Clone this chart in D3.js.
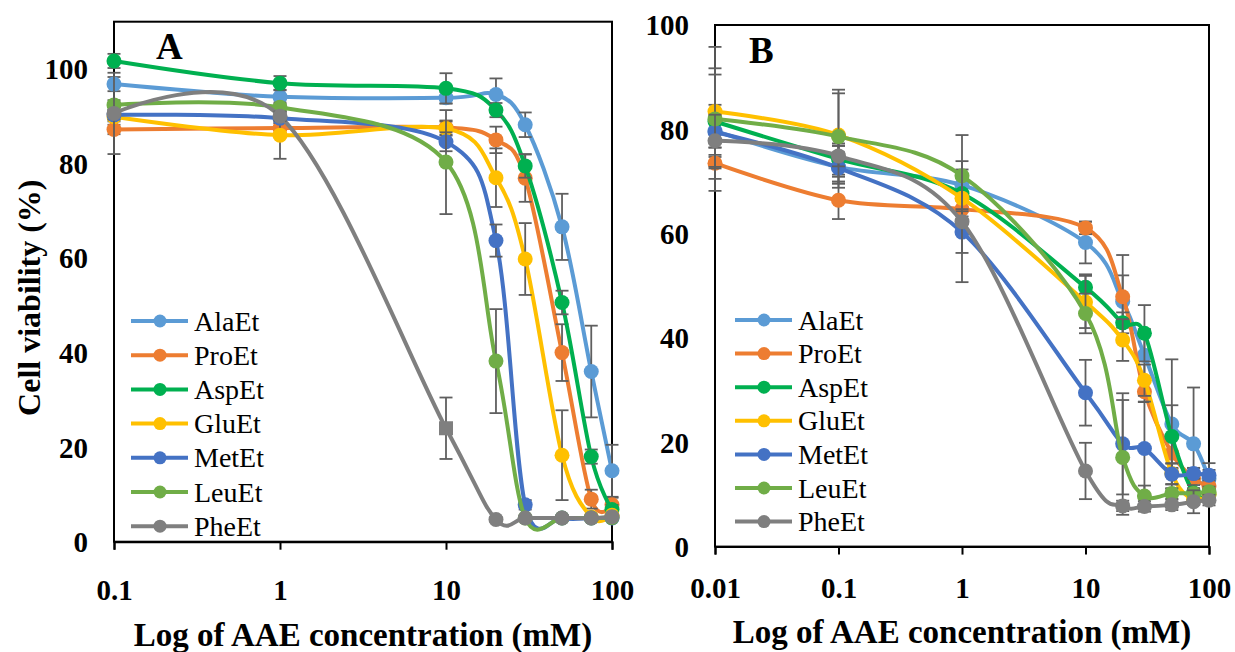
<!DOCTYPE html>
<html>
<head>
<meta charset="utf-8">
<script src="https://cdn.jsdelivr.net/npm/d3@7"></script>
<style>
  html, body { margin: 0; padding: 0; background: #fff; }
  svg text { font-family: "Liberation Serif", "Times New Roman", serif; }
</style>
</head>
<body>
<svg id="chart" width="1235" height="652"></svg>
<script>
// Series names and colours (shared by both panels)
const seriesNames = ["AlaEt", "ProEt", "AspEt", "GluEt", "MetEt", "LeuEt", "PheEt"];
const seriesColors = ["#5B9BD5", "#ED7D31", "#00B050", "#FFC000", "#4472C4", "#70AD47", "#7F7F7F"];

// Panel A: concentrations (mM) and viability (%) with ± error
const concA = [0.1, 1, 10, 20, 30, 50, 75, 100];
const alaEtA = [96.8, 94.1, 93.9, 94.6, 88.2, 66.6, 36.0, 15.0];
const proEtA = [87.2, 87.5, 87.6, 85.0, 76.9, 40.0, 9.0, 7.8];
const aspEtA = [101.7, 97.0, 95.9, 91.3, 79.5, 50.6, 18.0, 6.8];
const gluEtA = [89.9, 86.0, 87.4, 77.0, 59.8, 18.3, 5.2, 5.6];
const metEtA = [90.3, 89.6, 84.6, 63.7, 7.8, 5.0, 5.0, 5.0];
const leuEtA = [92.4, 91.9, 80.3, 38.2, 5.0, 5.0, 5.0, 5.1];
const pheEtA = [90.6, 90.0, 24.0, 4.7, 5.0, 5.0, 5.0, 5.3];
const alaEtErrA = [1.5, 1.5, 1.2, 3.4, 2.6, 7.0, 9.7, 5.5];
const proEtErrA = [1.0, 1.0, 1.5, 2.8, 5.0, 6.0, 2.0, 1.5];
const aspEtErrA = [1.5, 1.5, 3.2, 1.5, 2.5, 2.5, 1.5, 1.0];
const gluEtErrA = [1.0, 5.0, 1.5, 6.2, 7.6, 9.5, 0.5, 0.5];
const metEtErrA = [1.0, 1.0, 2.0, 3.4, 1.0, 0.3, 0.3, 0.3];
const leuEtErrA = [1.0, 1.0, 11.0, 11.0, 0.5, 0.3, 0.3, 0.3];
const pheEtErrA = [8.6, 1.0, 6.5, 0.5, 0.3, 0.3, 0.3, 0.3];

// Panel B: concentrations (mM) and viability (%) with ± error
const concB = [0.01, 0.1, 1, 10, 20, 30, 50, 75, 100];
const alaEtB = [79.7, 72.8, 69.3, 58.3, 47.0, 36.7, 23.5, 19.7, 13.0];
const proEtB = [73.5, 66.4, 64.7, 61.1, 47.9, 29.7, 17.9, 13.1, 11.6];
const aspEtB = [81.5, 74.3, 67.7, 49.7, 42.9, 40.9, 21.1, 10.3, 10.0];
const gluEtB = [83.4, 78.9, 66.8, 46.9, 39.6, 31.9, 14.0, 9.0, 10.0];
const metEtB = [79.5, 72.6, 60.3, 29.5, 19.7, 18.8, 13.9, 14.0, 13.7];
const leuEtB = [82.0, 78.6, 71.1, 44.7, 17.1, 9.7, 10.2, 10.2, 10.5];
const pheEtB = [77.8, 74.9, 62.3, 14.5, 7.8, 7.7, 8.0, 8.6, 8.9];
const alaEtErrB = [5.0, 4.0, 3.0, 4.0, 5.0, 5.0, 12.4, 10.8, 3.0];
const proEtErrB = [3.0, 3.6, 2.0, 1.2, 8.0, 2.0, 3.0, 2.0, 1.5];
const aspEtErrB = [9.0, 3.0, 3.0, 2.5, 2.0, 5.4, 6.0, 1.5, 1.0];
const gluEtErrB = [8.3, 8.0, 4.0, 5.0, 4.0, 3.0, 2.0, 1.0, 1.0];
const metEtErrB = [3.0, 3.0, 4.0, 6.3, 9.7, 9.0, 2.0, 1.0, 1.0];
const leuEtErrB = [13.8, 9.0, 7.8, 3.8, 11.0, 2.0, 1.0, 1.0, 1.0];
const pheEtErrB = [5.0, 2.0, 11.6, 5.4, 1.0, 1.0, 1.0, 2.2, 1.0];

// Axis tick labels
const xTicksA = [0.1, 1, 10, 100];
const xTicksB = [0.01, 0.1, 1, 10, 100];
const yTicksA = [0, 20, 40, 60, 80, 100];
const yTicksB = [0, 20, 40, 60, 80, 100];

const panels = [
  {
    label: "A", conc: concA, xTicks: xTicksA, yTicks: yTicksA,
    values: [alaEtA, proEtA, aspEtA, gluEtA, metEtA, leuEtA, pheEtA],
    errors: [alaEtErrA, proEtErrA, aspEtErrA, gluEtErrA, metEtErrA, leuEtErrA, pheEtErrA],
    box: { left: 114, right: 612, top: 21.7, bottom: 541.7 }, yMax: 110,
    labelPos: [156, 59], legendPos: [131, 321, 34.2], yTitle: true,
    xTickOffset: 58, xTitleY: 646
  },
  {
    label: "B", conc: concB, xTicks: xTicksB, yTicks: yTicksB,
    values: [alaEtB, proEtB, aspEtB, gluEtB, metEtB, leuEtB, pheEtB],
    errors: [alaEtErrB, proEtErrB, aspEtErrB, gluEtErrB, metEtErrB, leuEtErrB, pheEtErrB],
    box: { left: 715, right: 1209, top: 25, bottom: 546.6 }, yMax: 100,
    labelPos: [749, 63], legendPos: [735, 320, 33.6], yTitle: false,
    xTickOffset: 51, xTitleY: 643
  }
];

const svg = d3.select("#chart");
const errColor = "#5f5f5f";

panels.forEach(p => {
  const b = p.box;
  const x = d3.scaleLog().domain([p.conc[0], 100]).range([b.left, b.right]);
  const y = d3.scaleLinear().domain([0, p.yMax]).range([b.bottom, b.top]);
  const g = svg.append("g");

  // Plot frame
  g.append("rect")
    .attr("x", b.left).attr("y", b.top)
    .attr("width", b.right - b.left).attr("height", b.bottom - b.top)
    .attr("fill", "none").attr("stroke", "#000").attr("stroke-width", 2);

  // X axis (log scale, decade ticks)
  const xAxis = g.append("g")
    .attr("transform", `translate(0,${b.bottom})`)
    .call(d3.axisBottom(x).tickValues(p.xTicks).tickSize(8).tickFormat(d => String(d)));
  xAxis.select(".domain").attr("stroke", "#000").attr("stroke-width", 2);
  xAxis.selectAll(".tick line").attr("stroke", "#000").attr("stroke-width", 2);
  xAxis.selectAll(".tick text")
    .attr("y", 0).attr("dy", 0)
    .attr("transform", `translate(0,${p.xTickOffset})`)
    .attr("fill", "#000")
    .style("font-size", "29px").style("font-weight", "bold");

  // Y axis (labels only)
  const yAxis = g.append("g")
    .attr("transform", `translate(${b.left},0)`)
    .call(d3.axisLeft(y).tickValues(p.yTicks).tickSize(0).tickPadding(26));
  yAxis.select(".domain").remove();
  yAxis.selectAll(".tick text")
    .attr("fill", "#000")
    .attr("dy", "0.34em")
    .style("font-size", "29px").style("font-weight", "bold");

  // Axis titles
  g.append("text")
    .attr("x", (b.left + b.right) / 2).attr("y", p.xTitleY)
    .attr("text-anchor", "middle")
    .style("font-size", "33px").style("font-weight", "bold")
    .text("Log of AAE concentration (mM)");
  if (p.yTitle) {
    g.append("text")
      .attr("transform", `translate(40,${(b.top + b.bottom) / 2 + 16}) rotate(-90)`)
      .attr("text-anchor", "middle")
      .style("font-size", "32px").style("font-weight", "bold")
      .text("Cell viability (%)");
  }

  // Panel letter
  g.append("text")
    .attr("x", p.labelPos[0]).attr("y", p.labelPos[1])
    .style("font-size", "37px").style("font-weight", "bold")
    .text(p.label);

  // Series: smoothed line, error bars, markers
  const line = d3.line()
    .x(d => x(d.c)).y(d => y(d.v))
    .curve(d3.curveCardinal.tension(0));

  seriesNames.forEach((name, si) => {
    const pts = p.conc.map((c, i) => ({ c, v: p.values[si][i], e: p.errors[si][i] }));
    const color = seriesColors[si];
    const sg = g.append("g");

    sg.append("path").datum(pts)
      .attr("d", line)
      .attr("fill", "none").attr("stroke", color)
      .attr("stroke-width", 4).attr("stroke-linejoin", "round");

    const eb = sg.selectAll(".err").data(pts).enter().append("g");
    eb.append("line")
      .attr("x1", d => x(d.c)).attr("x2", d => x(d.c))
      .attr("y1", d => y(d.v + d.e)).attr("y2", d => y(d.v - d.e))
      .attr("stroke", errColor).attr("stroke-width", 1.8);
    eb.selectAll(".cap").data(d => [d.v + d.e, d.v - d.e].map(v => ({ c: d.c, v })))
      .enter().append("line")
      .attr("x1", d => x(d.c) - 6.5).attr("x2", d => x(d.c) + 6.5)
      .attr("y1", d => y(d.v)).attr("y2", d => y(d.v))
      .attr("stroke", errColor).attr("stroke-width", 1.8);

    sg.selectAll(".mk").data(pts).enter().each(function (d) {
      // The PheEt point at 10 mM in panel A uses a square marker
      const square = p.label === "A" && name === "PheEt" && d.c === 10;
      if (square) {
        d3.select(this).append("rect")
          .attr("x", x(d.c) - 7).attr("y", y(d.v) - 7)
          .attr("width", 14).attr("height", 14)
          .attr("fill", color);
      } else {
        d3.select(this).append("circle")
          .attr("cx", x(d.c)).attr("cy", y(d.v)).attr("r", 7.5)
          .attr("fill", color);
      }
    });
  });

  // Legend
  const [lx, ly, lstep] = p.legendPos;
  seriesNames.forEach((name, si) => {
    const row = g.append("g").attr("transform", `translate(${lx},${ly + si * lstep})`);
    row.append("line").attr("x1", 0).attr("x2", 57).attr("y1", 0).attr("y2", 0)
      .attr("stroke", seriesColors[si]).attr("stroke-width", 4);
    row.append("circle").attr("cx", 29).attr("cy", 0).attr("r", 6.5).attr("fill", seriesColors[si]);
    row.append("text").attr("x", 63).attr("y", 9.5)
      .style("font-size", "28px")
      .text(name);
  });
});
</script>
</body>
</html>
